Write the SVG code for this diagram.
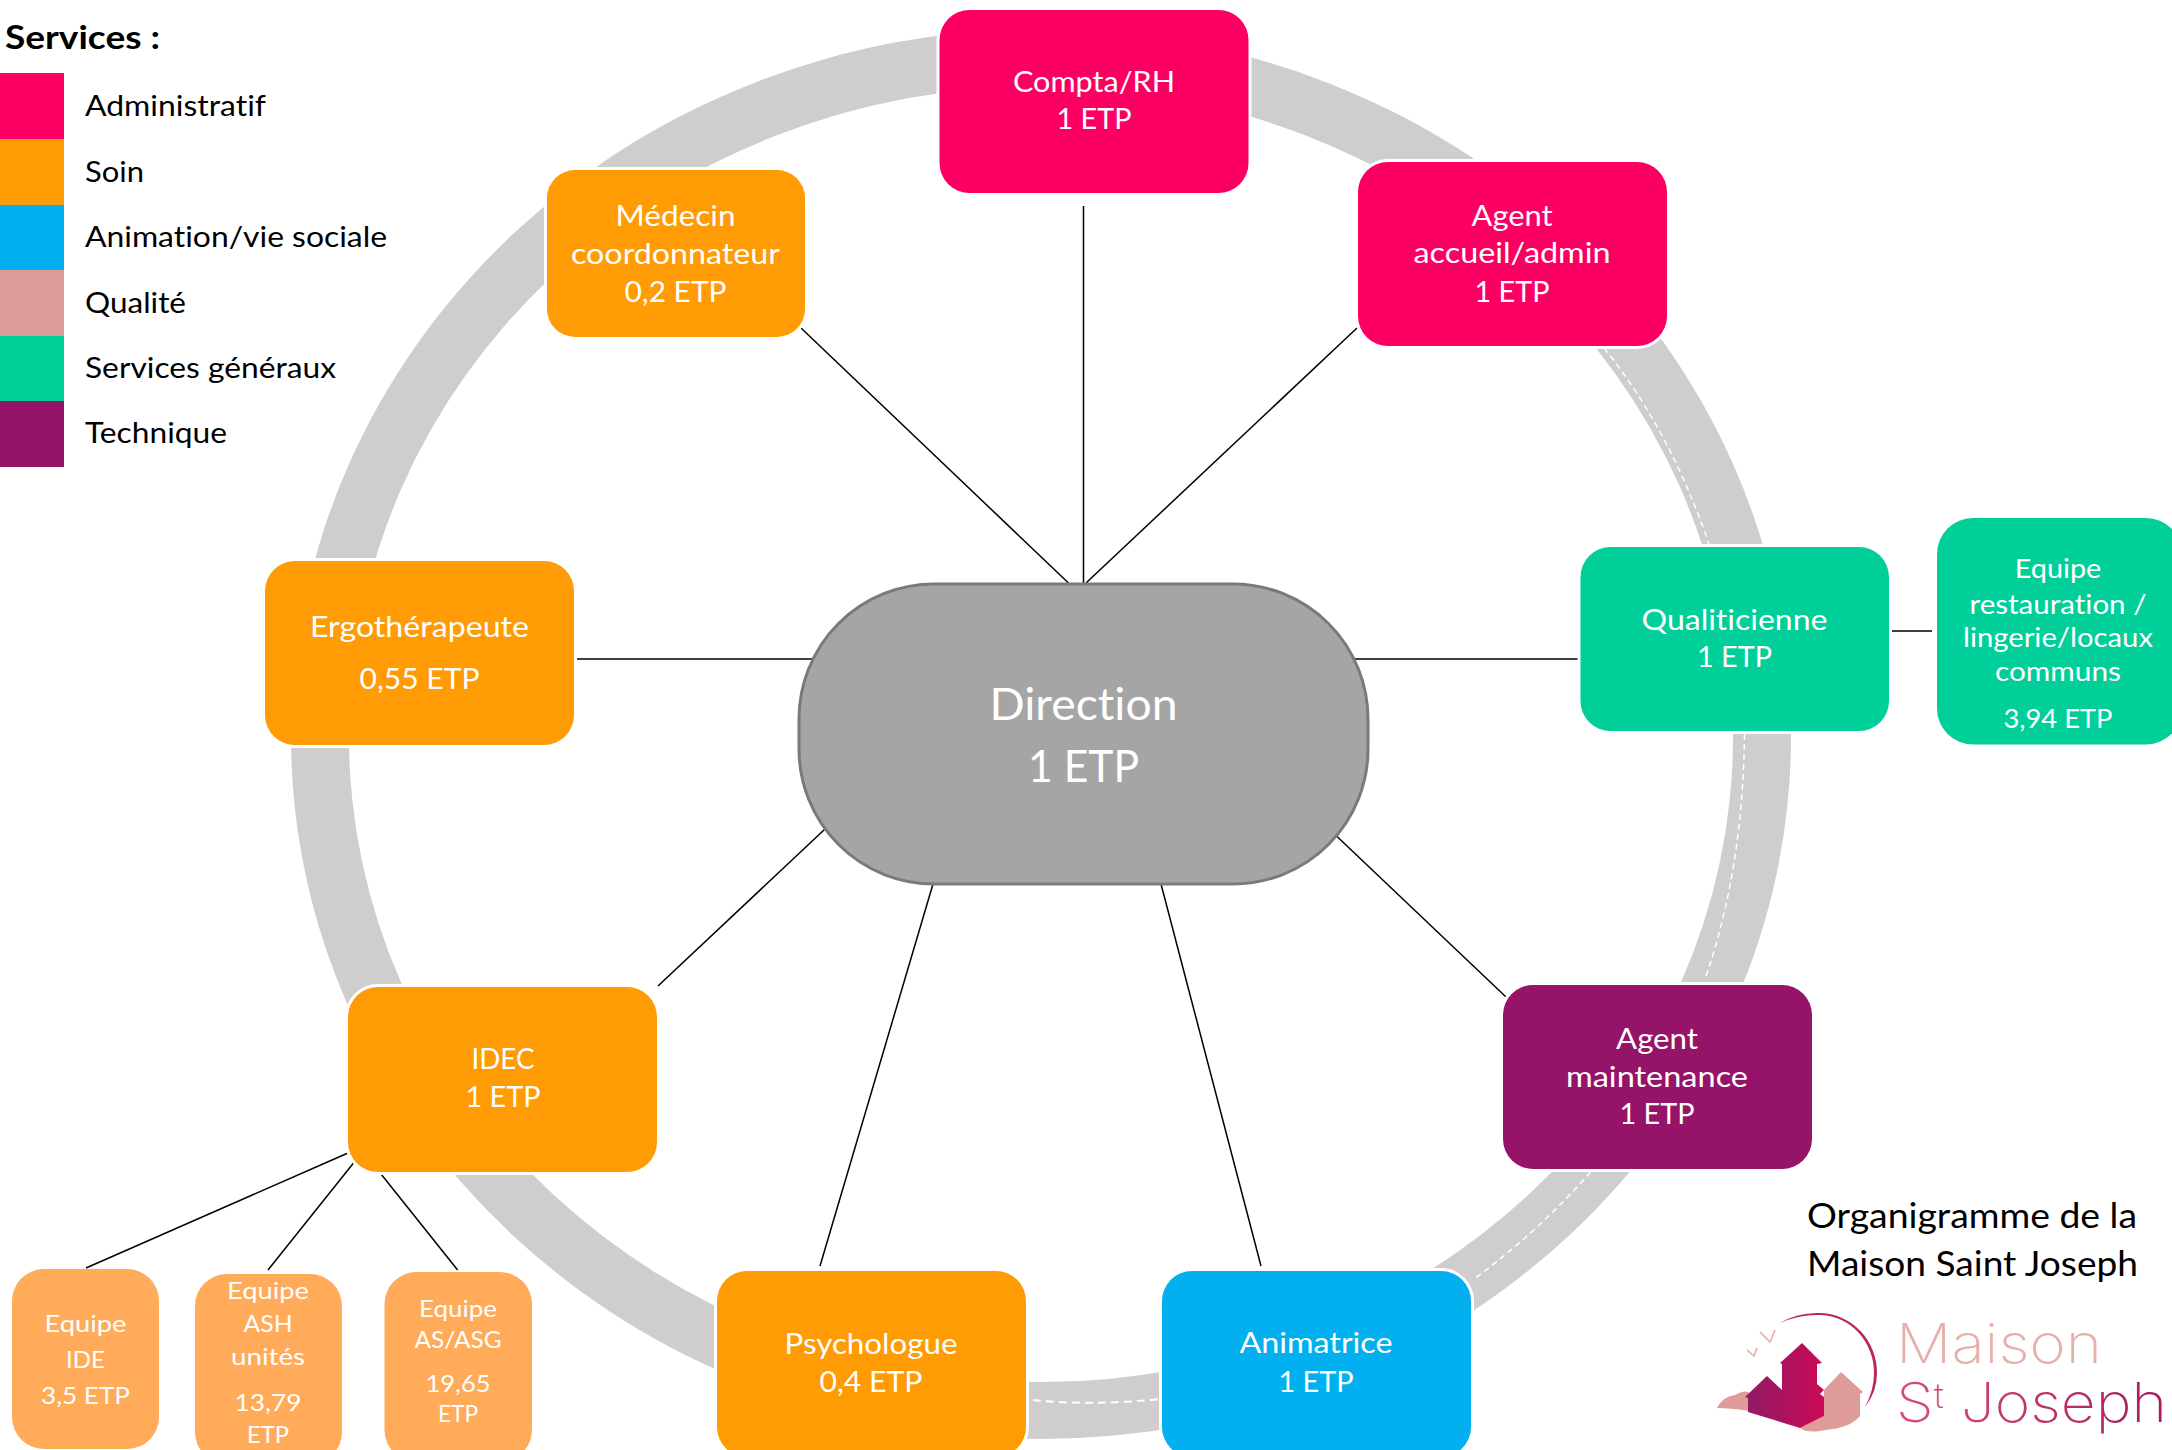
<svg xmlns="http://www.w3.org/2000/svg" width="2172" height="1450" viewBox="0 0 2172 1450">
<style>
text{font-family:Lato,"Liberation Sans",sans-serif;font-variant-ligatures:none;}
.t{fill:#fff;font-size:28px;text-anchor:middle;}
.s{fill:#fff;font-size:24px;text-anchor:middle;}
.r{fill:#fff;font-size:26.5px;text-anchor:middle;}
.n{stroke:#fff;stroke-width:6;paint-order:stroke;}
.lg{fill:#000;font-size:28.5px;}
.c{fill:none;stroke:#000;stroke-width:1.5;}
.h{fill:none;stroke:#404040;stroke-width:2;}
.d{fill:none;stroke:#fff;stroke-width:1.5;stroke-dasharray:6 4;}
.logo{font-family:Inter,Lato,sans-serif;font-weight:200;}
.admin{fill:#fb0062;}.soin{fill:#ff9b05;}.anim{fill:#02b0f0;}.qual{fill:#de9b98;}.gen{fill:#01cf9a;}.tech{fill:#96136a;}.lite{fill:#ffab59;}
</style>
<defs>
<linearGradient id="house" x1="0" y1="0" x2="1" y2="0"><stop offset="0" stop-color="#8f1a66"/><stop offset="1" stop-color="#cc0a55"/></linearGradient>
<linearGradient id="stj" gradientUnits="userSpaceOnUse" x1="1898" y1="0" x2="2165" y2="0"><stop offset="0" stop-color="#d8506f"/><stop offset="1" stop-color="#a81a60"/></linearGradient>
</defs>
<rect width="2172" height="1450" fill="#fff"/>
<g id="ring">
<path fill="#cfcdce" fill-rule="evenodd" d="M291 737A750 708 0 0 1 1791 737A750 702 0 0 1 291 737ZM349 737A692 651 0 0 1 1733 737A692 645 0 0 1 349 737Z"/>
<path class="d" d="M1604 348Q1670 430 1709 544"/>
<path class="d" d="M1744.500 734Q1743 870 1705 979"/>
<path class="d" d="M1590.600 1172Q1540 1230 1473 1280"/>
<path class="d" style="stroke-width:2;stroke-dasharray:8 5" d="M1033 1400Q1093 1406 1160 1399"/>
</g>
<g id="connectors">
<line class="c" x1="1083.500" y1="206" x2="1083.500" y2="583"/>
<line class="c" x1="801" y1="328" x2="1068.500" y2="583"/>
<line class="c" x1="1357" y1="328" x2="1086" y2="583"/>
<line class="h" x1="576" y1="659" x2="812" y2="659"/>
<line class="h" x1="1354" y1="659" x2="1578" y2="659"/>
<line class="h" x1="1892" y1="631" x2="1932" y2="631"/>
<line class="c" x1="825" y1="829" x2="658" y2="986"/>
<line class="c" x1="1336.500" y1="836" x2="1506" y2="997"/>
<line class="c" x1="933" y1="884" x2="820" y2="1266"/>
<line class="c" x1="1161" y1="884" x2="1261" y2="1266"/>
<line class="c" x1="348" y1="1153" x2="86" y2="1268"/>
<line class="c" x1="353.500" y1="1163" x2="268" y2="1270"/>
<line class="c" x1="381" y1="1174" x2="457.600" y2="1270"/>
</g>
<g id="direction">
<rect x="799" y="584" width="569" height="300" rx="135" ry="135" fill="#a5a5a5" stroke="#7a7a7a" stroke-width="3"/>
<text x="1083.500" y="720" fill="#fff" font-size="44" text-anchor="middle" textLength="188" lengthAdjust="spacingAndGlyphs">Direction</text>
<text x="1083.500" y="782" fill="#fff" font-size="44" text-anchor="middle" textLength="111" lengthAdjust="spacingAndGlyphs">1 ETP</text>
</g>
<g id="compta">
<rect class="n admin" x="939.500" y="10" width="309" height="183" rx="30"/>
<text class="t" x="1094" y="92" textLength="162" lengthAdjust="spacingAndGlyphs">Compta/RH</text>
<text class="t" x="1094" y="129" textLength="75" lengthAdjust="spacingAndGlyphs">1 ETP</text>
</g>
<g id="agent-accueil">
<rect class="n admin" x="1358" y="162" width="309" height="184" rx="30"/>
<text class="t" x="1512" y="226" textLength="81" lengthAdjust="spacingAndGlyphs">Agent</text>
<text class="t" x="1512" y="263" textLength="197" lengthAdjust="spacingAndGlyphs">accueil/admin</text>
<text class="t" x="1512" y="302" textLength="75" lengthAdjust="spacingAndGlyphs">1 ETP</text>
</g>
<g id="medecin">
<rect class="n soin" x="547" y="170" width="258" height="167" rx="28"/>
<text class="t" x="675.500" y="226" textLength="120" lengthAdjust="spacingAndGlyphs">Médecin</text>
<text class="t" x="675.500" y="263.500" textLength="209" lengthAdjust="spacingAndGlyphs">coordonnateur</text>
<text class="t" x="675.500" y="302" textLength="102" lengthAdjust="spacingAndGlyphs">0,2 ETP</text>
</g>
<g id="ergo">
<rect class="n soin" x="265" y="561" width="309" height="184" rx="30"/>
<text class="t" x="419.500" y="637" textLength="219" lengthAdjust="spacingAndGlyphs">Ergothérapeute</text>
<text class="t" x="419.500" y="689" textLength="120" lengthAdjust="spacingAndGlyphs">0,55 ETP</text>
</g>
<g id="qualiticienne">
<rect class="n gen" x="1580.500" y="547" width="308.500" height="184" rx="30"/>
<text class="t" x="1734.500" y="630" textLength="186" lengthAdjust="spacingAndGlyphs">Qualiticienne</text>
<text class="t" x="1734.500" y="667" textLength="75" lengthAdjust="spacingAndGlyphs">1 ETP</text>
</g>
<g id="equipe-restauration">
<rect class="n gen" x="1937" y="518" width="245" height="226.500" rx="36"/>
<text class="r" x="2058" y="578" textLength="86.500" lengthAdjust="spacingAndGlyphs">Equipe</text>
<text class="r" x="2058" y="613.500" textLength="177" lengthAdjust="spacingAndGlyphs">restauration /</text>
<text class="r" x="2058" y="647" textLength="190" lengthAdjust="spacingAndGlyphs">lingerie/locaux</text>
<text class="r" x="2058" y="681" textLength="126" lengthAdjust="spacingAndGlyphs">communs</text>
<text class="r" x="2058" y="727.500" textLength="109" lengthAdjust="spacingAndGlyphs">3,94 ETP</text>
</g>
<g id="agent-maintenance">
<rect class="n tech" x="1503" y="985" width="309" height="184" rx="30"/>
<text class="t" x="1657" y="1049" textLength="82" lengthAdjust="spacingAndGlyphs">Agent</text>
<text class="t" x="1657" y="1087" textLength="182" lengthAdjust="spacingAndGlyphs">maintenance</text>
<text class="t" x="1657" y="1124" textLength="75" lengthAdjust="spacingAndGlyphs">1 ETP</text>
</g>
<g id="animatrice">
<rect class="n anim" x="1162" y="1271" width="309" height="186" rx="30"/>
<text class="t" x="1316" y="1353" textLength="153" lengthAdjust="spacingAndGlyphs">Animatrice</text>
<text class="t" x="1316" y="1392" textLength="75" lengthAdjust="spacingAndGlyphs">1 ETP</text>
</g>
<g id="psychologue">
<rect class="n soin" x="717" y="1271" width="309" height="186" rx="30"/>
<text class="t" x="871" y="1354" textLength="173" lengthAdjust="spacingAndGlyphs">Psychologue</text>
<text class="t" x="871" y="1392" textLength="103" lengthAdjust="spacingAndGlyphs">0,4 ETP</text>
</g>
<g id="idec">
<rect class="n soin" x="348" y="987" width="309" height="185" rx="30"/>
<text class="t" x="503" y="1069" textLength="63" lengthAdjust="spacingAndGlyphs">IDEC</text>
<text class="t" x="503" y="1107" textLength="75" lengthAdjust="spacingAndGlyphs">1 ETP</text>
</g>
<g id="equipe-ide">
<rect class="lite" x="12" y="1269" width="147" height="180" rx="32"/>
<text class="s" x="85.500" y="1332" textLength="82" lengthAdjust="spacingAndGlyphs">Equipe</text>
<text class="s" x="85.500" y="1368" textLength="39" lengthAdjust="spacingAndGlyphs">IDE</text>
<text class="s" x="85.500" y="1404" textLength="89" lengthAdjust="spacingAndGlyphs">3,5 ETP</text>
</g>
<g id="equipe-ash">
<rect class="lite" x="195" y="1274" width="147" height="190" rx="32"/>
<text class="s" x="268" y="1299" textLength="82" lengthAdjust="spacingAndGlyphs">Equipe</text>
<text class="s" x="268" y="1332" textLength="49" lengthAdjust="spacingAndGlyphs">ASH</text>
<text class="s" x="268" y="1365" textLength="74" lengthAdjust="spacingAndGlyphs">unités</text>
<text class="s" x="268" y="1411" textLength="67" lengthAdjust="spacingAndGlyphs">13,79</text>
<text class="s" x="268" y="1443" textLength="42" lengthAdjust="spacingAndGlyphs">ETP</text>
</g>
<g id="equipe-as">
<rect class="lite" x="384.500" y="1272" width="147.500" height="190" rx="32"/>
<text class="s" x="458" y="1317" textLength="78" lengthAdjust="spacingAndGlyphs">Equipe</text>
<text class="s" x="458" y="1348" textLength="87" lengthAdjust="spacingAndGlyphs">AS/ASG</text>
<text class="s" x="458" y="1392" textLength="65" lengthAdjust="spacingAndGlyphs">19,65</text>
<text class="s" x="458" y="1422" textLength="40" lengthAdjust="spacingAndGlyphs">ETP</text>
</g>
<g id="legend">
<text x="5" y="49" font-size="33" font-weight="700" fill="#000" textLength="155" lengthAdjust="spacingAndGlyphs">Services :</text>
<rect class="admin" x="0" y="73" width="64" height="66"/>
<rect class="soin" x="0" y="139" width="64" height="66"/>
<rect class="anim" x="0" y="205" width="64" height="65"/>
<rect class="qual" x="0" y="270" width="64" height="66"/>
<rect class="gen" x="0" y="336" width="64" height="65"/>
<rect class="tech" x="0" y="401" width="64" height="66"/>
<text class="lg" x="85" y="116" textLength="181" lengthAdjust="spacingAndGlyphs">Administratif</text>
<text class="lg" x="85" y="182" textLength="59" lengthAdjust="spacingAndGlyphs">Soin</text>
<text class="lg" x="85" y="247" textLength="302" lengthAdjust="spacingAndGlyphs">Animation/vie sociale</text>
<text class="lg" x="85" y="313" textLength="101" lengthAdjust="spacingAndGlyphs">Qualité</text>
<text class="lg" x="85" y="378" textLength="251" lengthAdjust="spacingAndGlyphs">Services généraux</text>
<text class="lg" x="85" y="443" textLength="142" lengthAdjust="spacingAndGlyphs">Technique</text>
</g>
<g id="title">
<text x="1807" y="1228" font-size="34" fill="#000" textLength="330" lengthAdjust="spacingAndGlyphs">Organigramme de la</text>
<text x="1807" y="1276" font-size="34" fill="#000" textLength="331" lengthAdjust="spacingAndGlyphs">Maison Saint Joseph</text>
</g>
<g id="logo">
<path d="M1780 1323Q1798 1312 1821 1313A58 60 0 0 1 1877 1373Q1877 1392 1865 1407Q1874 1390 1874 1373A55 58 0 0 0 1821 1315Q1800 1314 1780 1323Z" fill="#b8285f"/>
<path d="M1760 1332L1770 1342L1775 1330M1747 1350L1754 1356L1757 1348" fill="none" stroke="#e3a7a0" stroke-width="1.500"/>
<path d="M1717 1408Q1722 1397 1735 1395Q1745 1389 1750 1393L1760 1395L1768 1400V1415Q1740 1408 1717 1408Z" fill="#de9b98"/>
<path d="M1841 1372L1863 1392L1860 1394V1416Q1850 1428 1825 1430Q1808 1434 1800 1428L1824 1416V1390Z" fill="#de9b98"/>
<path d="M1802 1343L1822 1363L1817 1364V1384L1824 1390L1820 1394L1824 1397V1416L1800 1428L1748 1412V1398L1745 1397L1767 1376L1782 1390V1364L1780 1363Z" fill="url(#house)"/>
<text class="logo" x="1896" y="1363" font-size="55" fill="#e5b0a8" textLength="206" lengthAdjust="spacingAndGlyphs">Maison</text>
<text class="logo" x="1896" y="1422" font-size="55" fill="url(#stj)" textLength="271" lengthAdjust="spacingAndGlyphs">S<tspan font-size="34" dy="-14">t</tspan><tspan dy="14"> Joseph</tspan></text>
</g>
</svg>
